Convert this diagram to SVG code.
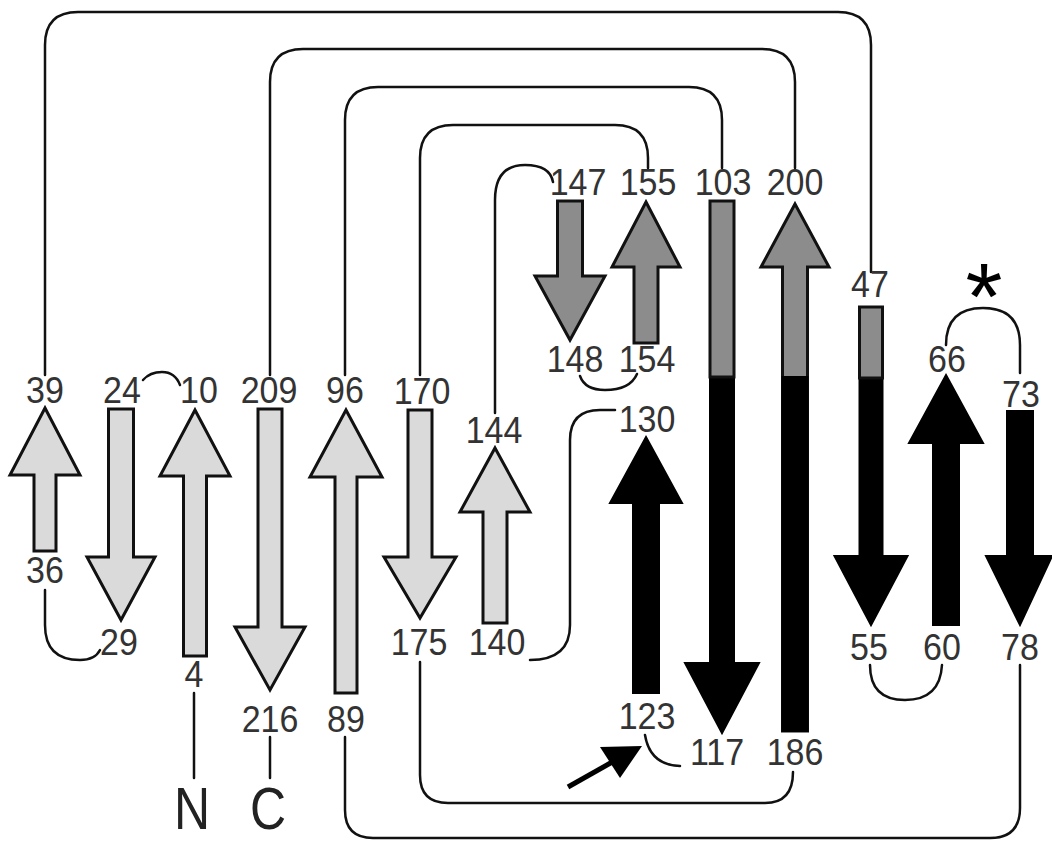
<svg xmlns="http://www.w3.org/2000/svg" width="1052" height="842" viewBox="0 0 1052 842">
<style>
.c{fill:none;stroke:#111;stroke-width:2.5;stroke-linecap:round}
.lt{fill:#dadada;stroke:#111;stroke-width:3;stroke-linejoin:miter}
.md{fill:#8c8c8c;stroke:#111;stroke-width:3}
.bk{fill:#000;stroke:#000;stroke-width:2}
.n{font-family:"Liberation Sans",Arial,sans-serif;font-size:34px;fill:#333;text-anchor:middle;transform:scaleY(1.1)}
.t{font-family:"Liberation Sans",Arial,sans-serif;font-size:50px;fill:#222;text-anchor:middle;transform:scaleY(1.2)}
.s{font-family:"Liberation Sans",Arial,sans-serif;font-size:95px;fill:#000;text-anchor:middle}
</style>
<rect width="1052" height="842" fill="#fff"/>
<g id="connectors">
<path class="c" d="M45,375 V45 Q45,12 78,12 H838 Q871,12 871,45 V272"/>
<path class="c" d="M270,375 V82 Q270,49 303,49 H762 Q795,49 795,82 V168"/>
<path class="c" d="M345,375 V120 Q345,87 378,87 H689 Q722,87 722,120 V168"/>
<path class="c" d="M420,375 V158 Q420,125 453,125 H615 Q648,125 648,158 V168"/>
<path class="c" d="M495,413 V200 Q495,165 525,165 Q550,165 553,182"/>
<path class="c" d="M580,376 Q585,390 605,390 Q630,390 637,374"/>
<path class="c" d="M143,380 Q150,372 162,372 Q175,372 180,385"/>
<path class="c" d="M45,590 V625 Q45,660 80,660 Q95,660 100,650"/>
<path class="c" d="M530,660 Q570,660 570,625 V440 Q570,410 600,410 H615"/>
<path class="c" d="M645,735 Q650,765 680,766"/>
<path class="c" d="M420,662 V775 Q420,803 448,803 H765 Q793,803 793,772"/>
<path class="c" d="M345,737 V810 Q345,838 373,838 H990 Q1020,838 1020,808 V665"/>
<path class="c" d="M870,665 Q870,700 905,700 Q940,700 942,665"/>
<path class="c" d="M946,345 Q946,308 983,308 Q1020,308 1020,345 V373"/>
<path class="c" d="M194,693 V778"/>
<path class="c" d="M270,737 V778"/>
</g>
<g id="pointer">
<line x1="568" y1="787" x2="614" y2="761" stroke="#000" stroke-width="5"/>
<polygon points="642,746 600,747 620,778" fill="#000"/>
</g>
<g id="s39">
<polygon class="lt" points="45,408 80,475 56,475 56,551 34,551 34,475 10,475"/>
<text class="n" x="45" y="366.4">39</text><text class="n" x="45" y="530">36</text>
</g>
<g id="s24">
<polygon class="lt" points="108.5,409 133.5,409 133.5,557 155,557 121,620 87,557 108.5,557"/>
<text class="n" x="122" y="366.4">24</text><text class="n" x="119" y="595.5">29</text>
</g>
<g id="s10">
<polygon class="lt" points="195,410 230,476 206.5,476 206.5,656 183.5,656 183.5,476 160,476"/>
<text class="n" x="199" y="366.4">10</text><text class="n" x="194" y="624.5">4</text>
</g>
<g id="s209">
<polygon class="lt" points="258,409 282,409 282,627 305,627 270,690 235,627 258,627"/>
<text class="n" x="269" y="366.4">209</text><text class="n" x="270" y="665.5">216</text>
</g>
<g id="s96">
<polygon class="lt" points="346,410 382,477 357,477 357,693 335,693 335,477 310,477"/>
<text class="n" x="345" y="366.4">96</text><text class="n" x="346" y="665.5">89</text>
</g>
<g id="s170">
<polygon class="lt" points="408,410 432,410 432,557 456,557 420,618 384,557 408,557"/>
<text class="n" x="422" y="367.3">170</text><text class="n" x="419" y="595.5">175</text>
</g>
<g id="s144">
<polygon class="lt" points="495,448 530,512 507,512 507,623 483,623 483,512 460,512"/>
<text class="n" x="494" y="402.7">144</text><text class="n" x="497" y="595.5">140</text>
</g>
<g id="s130">
<polygon class="bk" points="646,437 682,503 659,503 659,693 633,693 633,503 610,503"/>
<text class="n" x="647" y="392.7">130</text><text class="n" x="647" y="662.7">123</text>
</g>
<g id="s147">
<polygon class="md" points="557.5,201 582.5,201 582.5,276 605,276 570,340 535,276 557.5,276"/>
<text class="n" x="578" y="177.3">147</text><text class="n" x="575" y="338.2">148</text>
</g>
<g id="s155">
<polygon class="md" points="646,202 680,267 658,267 658,343 634,343 634,267 612,267"/>
<text class="n" x="648" y="177.3">155</text><text class="n" x="647" y="338.2">154</text>
</g>
<g id="s103">
<polygon class="bk" points="710,201 734,201 734,663 759,663 722,733 685,663 710,663"/>
<rect x="710" y="201" width="24" height="176" class="md"/>
<text class="n" x="723" y="177.3">103</text><text class="n" x="717" y="695.5">117</text>
</g>
<g id="s200">
<polygon class="md" points="795,204 829,267 807.5,267 807.5,731 782.5,731 782.5,267 761,267"/>
<rect x="782.5" y="377" width="25" height="354" class="bk"/>
<text class="n" x="795" y="177.3">200</text><text class="n" x="795" y="695.5">186</text>
</g>
<g id="s47">
<polygon class="bk" points="859.5,307 882.5,307 882.5,556 907.5,556 871,625 834.5,556 859.5,556"/>
<rect x="859.5" y="307" width="23" height="71" class="md"/>
<text class="n" x="870" y="270">47</text><text class="n" x="869" y="600">55</text>
</g>
<g id="s66">
<polygon class="bk" points="946,375 983,443 959,443 959,625 933,625 933,443 909,443"/>
<text class="n" x="947" y="338.2">66</text><text class="n" x="942" y="600">60</text>
</g>
<g id="s73">
<polygon class="bk" points="1007,411 1033,411 1033,556 1052,556 1020,625 986,556 1007,556"/>
<text class="n" x="1021" y="370">73</text><text class="n" x="1020" y="600">78</text>
</g>
<g id="termini">
<text class="t" x="192" y="690.8">N</text>
<text class="t" x="268" y="690.8">C</text>
<text class="s" x="984" y="329">*</text>
</g>
</svg>
